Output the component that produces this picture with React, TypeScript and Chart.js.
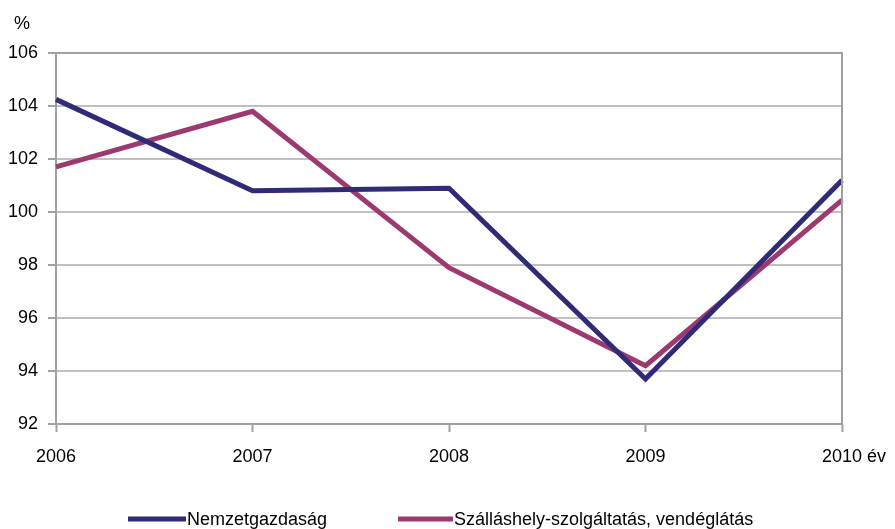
import React, { useEffect, useRef } from "react";
import { Chart, registerables } from "chart.js";

Chart.register(...registerables);

const years = ["2006", "2007", "2008", "2009", "2010"];
const nemzetgazdasag = [104.25, 100.8, 100.9, 93.7, 101.2];
const szallashely = [101.7, 103.8, 97.9, 94.2, 100.45];
const seriesNames = ["Nemzetgazdaság", "Szálláshely-szolgáltatás, vendéglátás"];
const yMin = 92;
const yMax = 106;
const yStep = 2;
const yUnit = "%";
const xUnit = "év";

const NAVY = "#2F2B76";
const MAGENTA = "#9C3A6F";
const FONT = "'Liberation Sans', Arial, sans-serif";

const extrasPlugin = {
  id: "extras",
  afterDraw(chart: any) {
    const { ctx, chartArea } = chart;
    ctx.save();
    // plot border top and right
    ctx.strokeStyle = "#A0A0A0";
    ctx.lineWidth = 2;
    ctx.beginPath();
    ctx.moveTo(chartArea.left, chartArea.top);
    ctx.lineTo(chartArea.right, chartArea.top);
    ctx.lineTo(chartArea.right, chartArea.bottom);
    ctx.stroke();

    ctx.fillStyle = "#000";
    ctx.font = `18px ${FONT}`;
    ctx.textBaseline = "middle";
    ctx.textAlign = "center";
    ctx.fillText(yUnit, 22, 24);
    ctx.textAlign = "left";
    ctx.fillText(xUnit, 867, 457);

    // legend
    const items = [
      { x0: 128, x1: 186, color: NAVY, label: seriesNames[0] },
      { x0: 398, x1: 453, color: MAGENTA, label: seriesNames[1] },
    ];
    const ly = 519;
    items.forEach((it) => {
      ctx.strokeStyle = it.color;
      ctx.lineWidth = 5;
      ctx.beginPath();
      ctx.moveTo(it.x0, ly);
      ctx.lineTo(it.x1, ly);
      ctx.stroke();
      ctx.fillStyle = "#000";
      ctx.textAlign = "left";
      ctx.fillText(it.label, it.x1 + 1, ly + 1);
    });
    ctx.restore();
  },
};

export default function App() {
  const ref = useRef<HTMLCanvasElement | null>(null);
  useEffect(() => {
    document.body.style.margin = "0";
    const chart = new Chart(ref.current as HTMLCanvasElement, {
      type: "line",
      data: {
        labels: years,
        datasets: [
          {
            label: seriesNames[0],
            data: nemzetgazdasag,
            borderColor: NAVY,
            backgroundColor: NAVY,
            borderWidth: 5,
            pointRadius: 0,
            tension: 0,
          },
          {
            label: seriesNames[1],
            data: szallashely,
            borderColor: MAGENTA,
            backgroundColor: MAGENTA,
            borderWidth: 5,
            pointRadius: 0,
            tension: 0,
          },
        ],
      },
      options: {
        animation: false,
        responsive: true,
        maintainAspectRatio: false,
        layout: { padding: { left: 0, right: 53, top: 53, bottom: 0 } },
        plugins: {
          legend: { display: false },
          tooltip: { enabled: false },
        },
        scales: {
          x: {
            offset: false,
            afterFit: (s: any) => {
              s.height = 105;
            },
            grid: {
              drawOnChartArea: false,
              tickLength: 8,
              tickColor: "#A0A0A0",
              tickWidth: 2,
            },
            border: { color: "#A0A0A0", width: 2 },
            ticks: {
              color: "#000",
              font: { family: FONT, size: 18 },
              padding: 14,
              maxRotation: 0,
              autoSkip: false,
            },
          },
          y: {
            min: yMin,
            max: yMax,
            afterFit: (s: any) => {
              s.width = 56;
            },
            grid: {
              color: "#C0C0C0",
              lineWidth: 2,
              tickLength: 8,
              tickColor: "#A0A0A0",
              tickWidth: 2,
            },
            border: { color: "#A0A0A0", width: 2 },
            ticks: {
              stepSize: yStep,
              color: "#000",
              font: { family: FONT, size: 18 },
              padding: 10,
            },
          },
        },
      },
      plugins: [extrasPlugin],
    });
    return () => chart.destroy();
  }, []);
  return (
    <div style={{ position: "fixed", left: 0, top: 0, width: 895, height: 529 }}>
      <canvas ref={ref} />
    </div>
  );
}
